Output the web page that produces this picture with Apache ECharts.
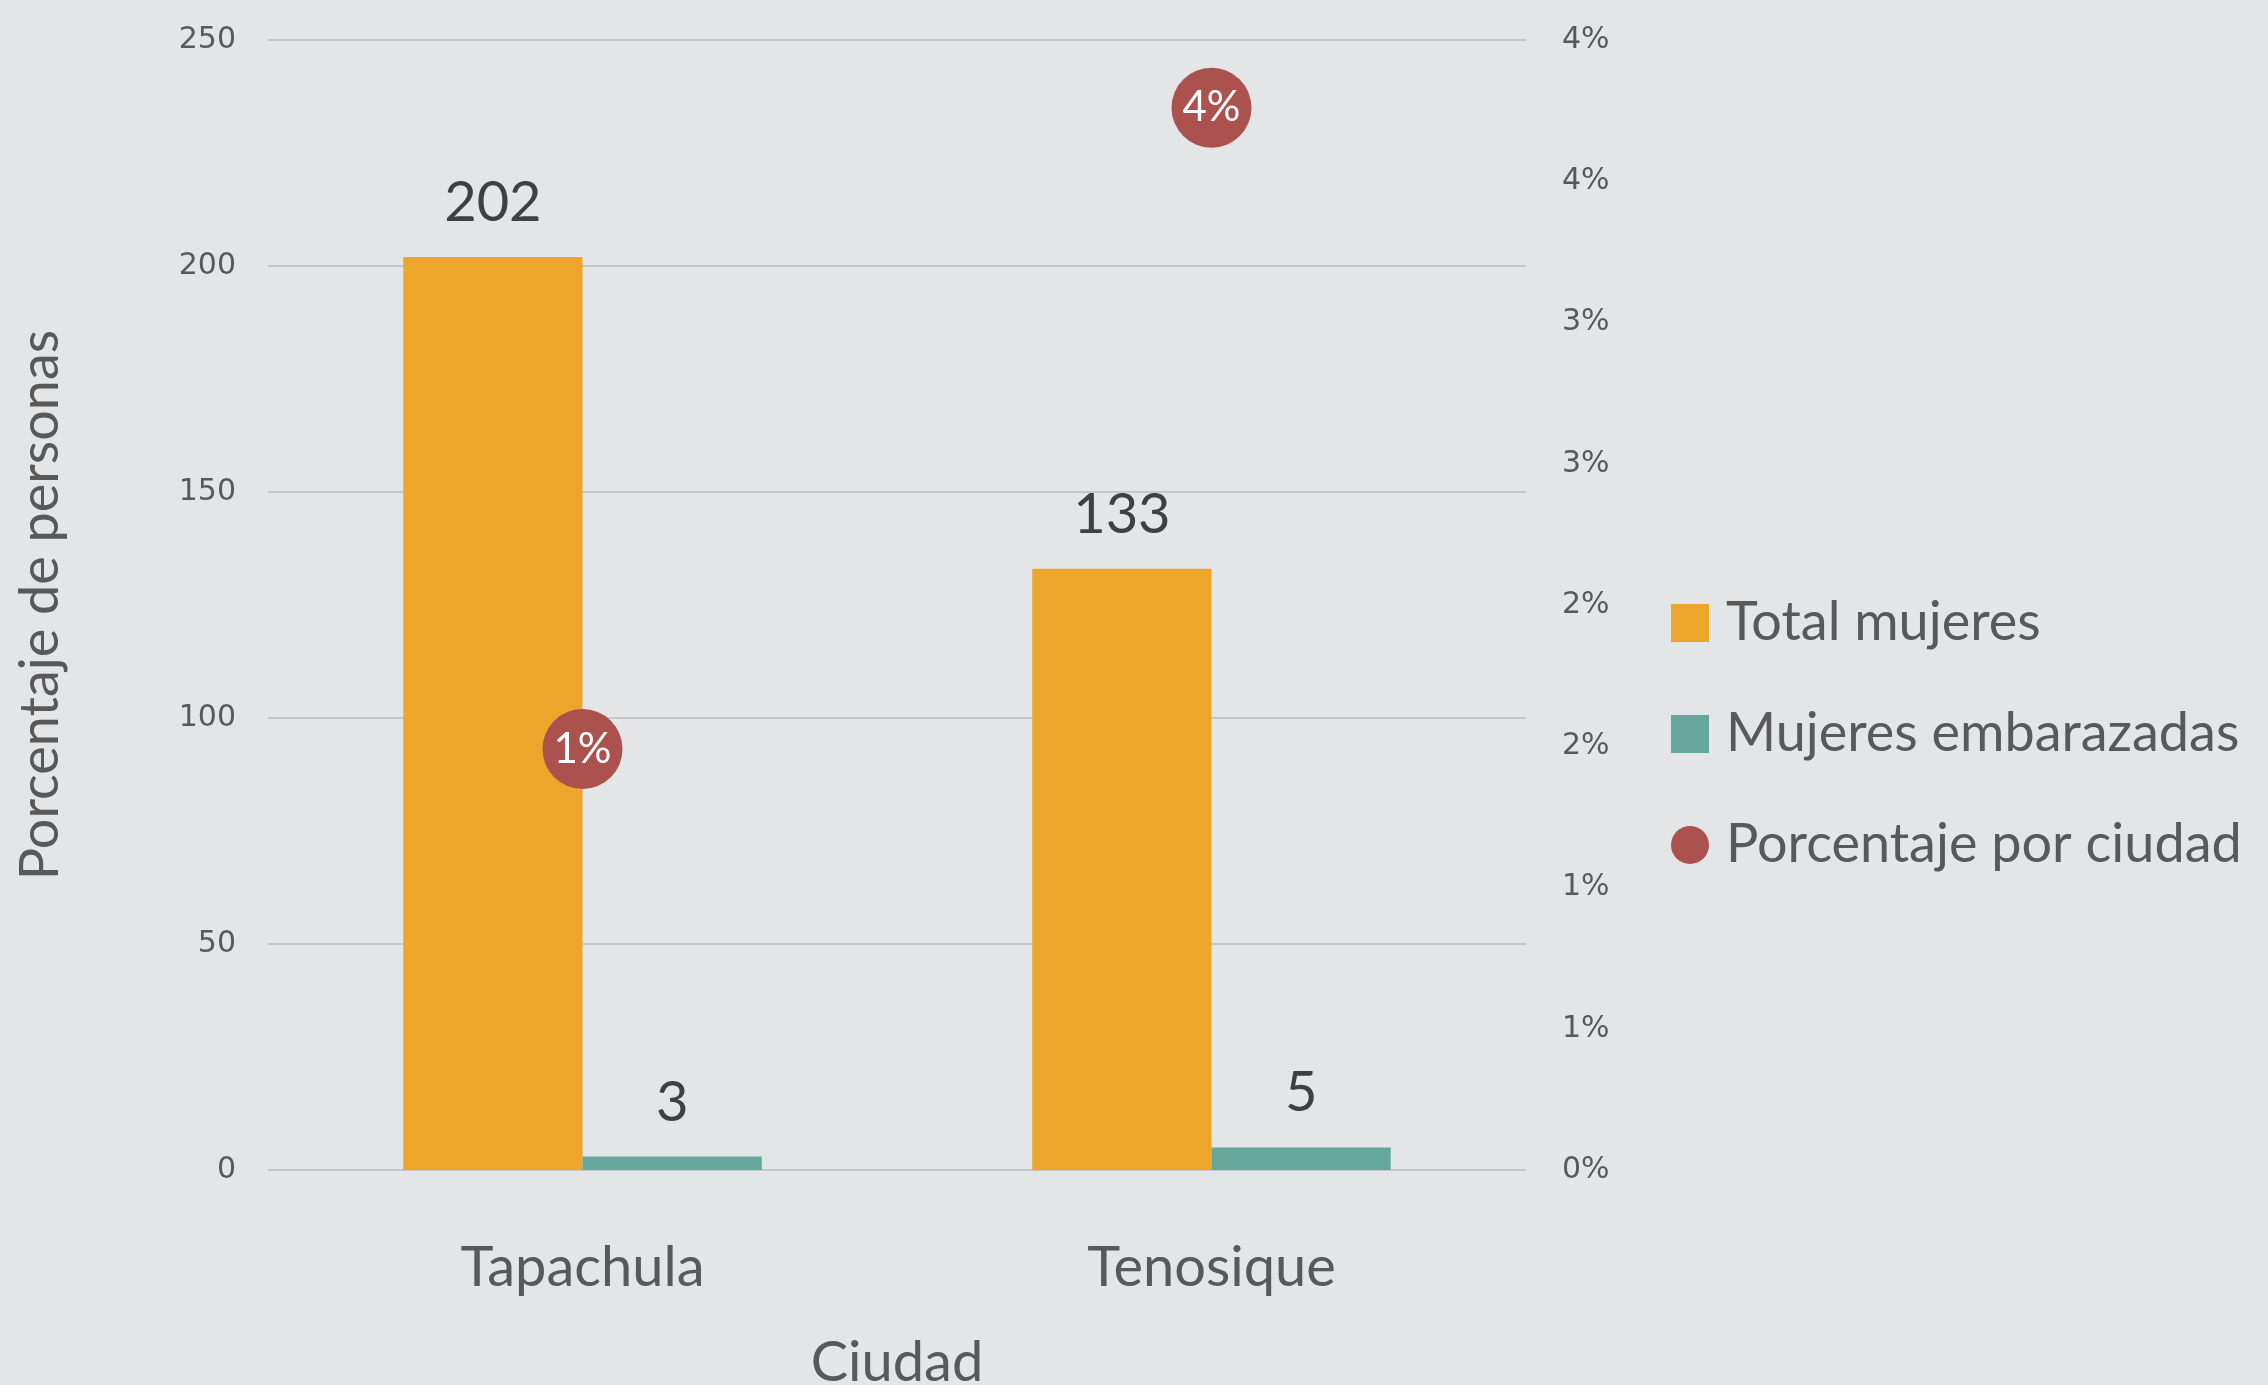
<!DOCTYPE html>
<html>
<head>
<meta charset="utf-8">
<script src="https://cdn.jsdelivr.net/npm/echarts@6/dist/echarts.min.js"></script>
<style>
  html, body { margin: 0; padding: 0; background: #e4e5e7; }
  #chart { width: 2268px; height: 1385px; }
</style>
</head>
<body>
<div id="chart"></div>
<script>
// datos
const ciudades = ['Tapachula', 'Tenosique'];
const totalMujeres = [202, 133];
const mujeresEmbarazadas = [3, 5];
const porcentajeCiudad = [0.0149, 0.0376];

const gris = '#595959';
const fuente = 'Lato, "Open Sans", sans-serif';

const chart = echarts.init(document.getElementById('chart'));

const opt = {
  backgroundColor: '#e4e5e7',
  animation: false,
  grid: { left: 268, right: 742, top: 40, bottom: 215, outerBoundsMode: 'none', containLabel: false },
  legend: {
    orient: 'vertical',
    left: 1666,
    top: 590,
    itemWidth: 38,
    itemHeight: 38,
    itemGap: 55,
    textStyle: { color: gris, fontSize: 54, lineHeight: 56, fontFamily: fuente, padding: [0, 0, 0, 12] },
    data: [
      { name: 'Total mujeres', icon: 'rect' },
      { name: 'Mujeres embarazadas', icon: 'rect' },
      { name: 'Porcentaje por ciudad', icon: 'circle' }
    ]
  },
  xAxis: {
    type: 'category',
    data: ciudades,
    axisLine: { show: false },
    axisTick: { show: false },
    axisLabel: { color: gris, fontSize: 56, fontFamily: fuente, margin: 70 },
    name: 'Ciudad',
    nameLocation: 'middle',
    nameGap: 165,
    nameTextStyle: { color: gris, fontSize: 56, fontFamily: fuente }
  },
  yAxis: [
    {
      type: 'value',
      min: 0,
      max: 250,
      interval: 50,
      axisLine: { show: false },
      axisTick: { show: false },
      axisLabel: { color: gris, fontSize: 30, fontFamily: 'DejaVu Sans', margin: 32 },
      splitLine: { lineStyle: { color: '#c6c7c9', width: 2 } },
      name: 'Porcentaje de personas',
      nameLocation: 'middle',
      nameGap: 200,
      nameRotate: 90,
      nameTextStyle: { color: gris, fontSize: 54, fontFamily: fuente }
    },
    {
      type: 'value',
      min: 0,
      max: 0.04,
      interval: 0.005,
      axisLine: { show: false },
      axisTick: { show: false },
      splitLine: { show: false },
      axisLabel: {
        color: gris, fontSize: 30, fontFamily: 'DejaVu Sans', margin: 36,
        formatter: v => Math.round(v * 100) + '%'
      }
    }
  ],
  series: [
    {
      name: 'Total mujeres',
      type: 'bar',
      data: totalMujeres,
      barGap: '0%',
      barCategoryGap: '43%',
      itemStyle: { color: '#eba62b' },
      label: { show: true, position: 'top', distance: 26, color: '#404040', fontSize: 56, fontFamily: fuente }
    },
    {
      name: 'Mujeres embarazadas',
      type: 'bar',
      data: mujeresEmbarazadas,
      itemStyle: { color: '#66a79d' },
      label: { show: true, position: 'top', distance: 26, color: '#404040', fontSize: 56, fontFamily: fuente }
    },
    {
      name: 'Porcentaje por ciudad',
      type: 'line',
      yAxisIndex: 1,
      data: porcentajeCiudad,
      symbol: 'circle',
      symbolSize: 80,
      lineStyle: { opacity: 0 },
      itemStyle: { color: '#ab524f' },
      label: {
        show: true, position: 'inside', color: '#ffffff', fontSize: 42, fontFamily: fuente,
        formatter: p => Math.round(p.value * 100) + '%'
      },
      z: 5
    }
  ]
};

chart.setOption(opt);
</script>
</body>
</html>
